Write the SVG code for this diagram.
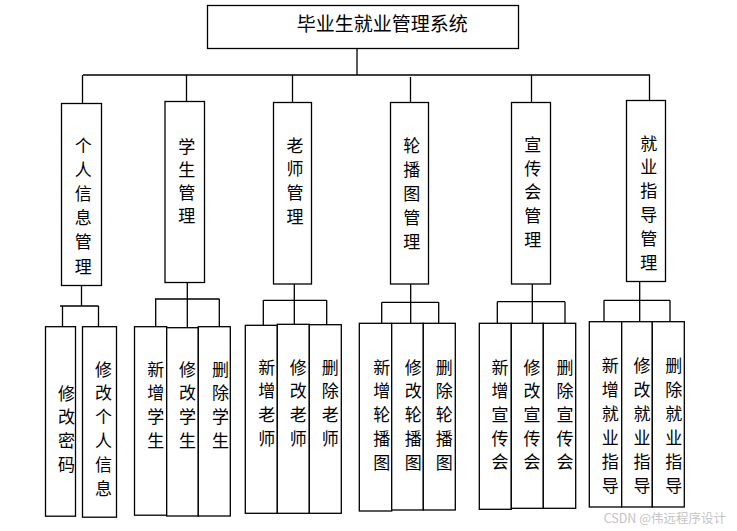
<svg xmlns="http://www.w3.org/2000/svg" width="737" height="531" viewBox="0 0 737 531">
<style>
.b{fill:#fff;stroke:#000;stroke-width:1.3}
.c{fill:none;stroke:#000;stroke-width:1.3}
.t{font-family:"Noto Sans CJK SC","Noto Sans",sans-serif;font-size:17px;fill:#000;text-anchor:middle}
.h{font-family:"Noto Sans CJK SC","Noto Sans",sans-serif;font-size:19px;fill:#000;text-anchor:middle}
.w{font-family:"Noto Sans CJK SC","Noto Sans",sans-serif;font-size:12.5px;fill:#c4c4c4;text-anchor:end}
</style>
<rect width="737" height="531" fill="#fff"/>
<g id="connectors">
<path class="c" d="M357,48.5V75M83,75H650M82.5,75V103.5M186.5,75V101.5M292.5,75V102.5M410.5,77V102.5M531.5,75V102.5M649.5,75V100.5"/>
<path class="c" d="M81.5,285.5V306M60,306H98.5M62.5,306V326.7M98.5,306V326.7"/>
<path class="c" d="M187.3,282.5V327.7M155,299H219.5M155.7,299V326.7M219.3,299V326.7"/>
<path class="c" d="M294.3,284V324.3M263.3,300.3H326.7M263.3,300.3V325.3M326.7,300.3V324.7"/>
<path class="c" d="M410.7,284V323.3M381.7,302.3H438.7M381.7,302.3V323.3M438.7,302.3V323.3"/>
<path class="c" d="M532.3,284V323.3M497.3,301.7H565M497.3,301.7V323.3M565,301.7V323.3"/>
<path class="c" d="M639.7,281.3V321.7M604,300.3H670M604,300.3V321.7M670,300.3V321.7"/>
</g>
<g id="root"><rect class="b" x="207.5" y="5.5" width="311" height="43"/><text class="h" x="382.3" y="31">毕业生就业管理系统</text></g>

<g id="n1"><rect class="b" x="61.5" y="103.5" width="40" height="182"/><text class="t" y="151.5"><tspan x="83.3">个</tspan><tspan x="83.3" dy="24.2">人</tspan><tspan x="83.3" dy="24.2">信</tspan><tspan x="83.3" dy="24.2">息</tspan><tspan x="83.3" dy="24.2">管</tspan><tspan x="83.3" dy="24.2">理</tspan></text></g>
<g id="n2"><rect class="b" x="165" y="101.5" width="39.5" height="181"/><text class="t" y="152.5"><tspan x="186.7">学</tspan><tspan x="186.7" dy="23.3">生</tspan><tspan x="186.7" dy="23.3">管</tspan><tspan x="186.7" dy="23.3">理</tspan></text></g>
<g id="n3"><rect class="b" x="273.5" y="102.5" width="38" height="181.5"/><text class="t" y="151.5"><tspan x="295">老</tspan><tspan x="295" dy="23.9">师</tspan><tspan x="295" dy="23.9">管</tspan><tspan x="295" dy="23.9">理</tspan></text></g>
<g id="n4"><rect class="b" x="390.5" y="102.5" width="38" height="181.5"/><text class="t" y="151.5"><tspan x="411.7">轮</tspan><tspan x="411.7" dy="24.1">播</tspan><tspan x="411.7" dy="24.1">图</tspan><tspan x="411.7" dy="24.1">管</tspan><tspan x="411.7" dy="24.1">理</tspan></text></g>
<g id="n5"><rect class="b" x="511.5" y="102.5" width="39" height="181.5"/><text class="t" y="151.2"><tspan x="532.8">宣</tspan><tspan x="532.8" dy="23.6">传</tspan><tspan x="532.8" dy="23.6">会</tspan><tspan x="532.8" dy="23.6">管</tspan><tspan x="532.8" dy="23.6">理</tspan></text></g>
<g id="n6"><rect class="b" x="626.5" y="100.5" width="39" height="181"/><text class="t" y="149.5"><tspan x="648.7">就</tspan><tspan x="648.7" dy="23.9">业</tspan><tspan x="648.7" dy="23.9">指</tspan><tspan x="648.7" dy="23.9">导</tspan><tspan x="648.7" dy="23.9">管</tspan><tspan x="648.7" dy="23.9">理</tspan></text></g>

<g id="n1a"><rect class="b" x="45.5" y="326.7" width="30" height="189.5"/><text class="t" y="399.5"><tspan x="66.5">修</tspan><tspan x="66.5" dy="23.7">改</tspan><tspan x="66.5" dy="23.7">密</tspan><tspan x="66.5" dy="23.7">码</tspan></text></g>
<g id="n1b"><rect class="b" x="82.5" y="326.7" width="34" height="190.5"/><text class="t" y="375.5"><tspan x="103.5">修</tspan><tspan x="103.5" dy="23.9">改</tspan><tspan x="103.5" dy="23.9">个</tspan><tspan x="103.5" dy="23.9">人</tspan><tspan x="103.5" dy="23.9">信</tspan><tspan x="103.5" dy="23.9">息</tspan></text></g>

<g id="n2a"><rect class="b" x="134.5" y="326.7" width="32.2" height="188.5"/><text class="t" y="375.5"><tspan x="155.8">新</tspan><tspan x="155.8" dy="23.7">增</tspan><tspan x="155.8" dy="23.7">学</tspan><tspan x="155.8" dy="23.7">生</tspan></text></g>
<g id="n2b"><rect class="b" x="166.7" y="327.7" width="31.6" height="188.3"/><text class="t" y="375.5"><tspan x="187.5">修</tspan><tspan x="187.5" dy="23.7">改</tspan><tspan x="187.5" dy="23.7">学</tspan><tspan x="187.5" dy="23.7">生</tspan></text></g>
<g id="n2c"><rect class="b" x="198.3" y="326.7" width="32" height="189.3"/><text class="t" y="375.5"><tspan x="220.5">删</tspan><tspan x="220.5" dy="23.7">除</tspan><tspan x="220.5" dy="23.7">学</tspan><tspan x="220.5" dy="23.7">生</tspan></text></g>

<g id="n3a"><rect class="b" x="245.3" y="325.3" width="32" height="188"/><text class="t" y="373.5"><tspan x="266.7">新</tspan><tspan x="266.7" dy="23.8">增</tspan><tspan x="266.7" dy="23.8">老</tspan><tspan x="266.7" dy="23.8">师</tspan></text></g>
<g id="n3b"><rect class="b" x="277.3" y="324.3" width="32" height="189"/><text class="t" y="373.5"><tspan x="298.3">修</tspan><tspan x="298.3" dy="23.8">改</tspan><tspan x="298.3" dy="23.8">老</tspan><tspan x="298.3" dy="23.8">师</tspan></text></g>
<g id="n3c"><rect class="b" x="309.3" y="324.7" width="32" height="188.6"/><text class="t" y="373.5"><tspan x="330.3">删</tspan><tspan x="330.3" dy="23.8">除</tspan><tspan x="330.3" dy="23.8">老</tspan><tspan x="330.3" dy="23.8">师</tspan></text></g>

<g id="n4a"><rect class="b" x="359.3" y="323.3" width="32.4" height="187.7"/><text class="t" y="373.5"><tspan x="381.7">新</tspan><tspan x="381.7" dy="23.9">增</tspan><tspan x="381.7" dy="23.9">轮</tspan><tspan x="381.7" dy="23.9">播</tspan><tspan x="381.7" dy="23.9">图</tspan></text></g>
<g id="n4b"><rect class="b" x="391.7" y="323.3" width="31.6" height="186.7"/><text class="t" y="373.5"><tspan x="413.3">修</tspan><tspan x="413.3" dy="23.9">改</tspan><tspan x="413.3" dy="23.9">轮</tspan><tspan x="413.3" dy="23.9">播</tspan><tspan x="413.3" dy="23.9">图</tspan></text></g>
<g id="n4c"><rect class="b" x="423.3" y="323.3" width="32" height="186.7"/><text class="t" y="373.5"><tspan x="444.3">删</tspan><tspan x="444.3" dy="23.9">除</tspan><tspan x="444.3" dy="23.9">轮</tspan><tspan x="444.3" dy="23.9">播</tspan><tspan x="444.3" dy="23.9">图</tspan></text></g>

<g id="n5a"><rect class="b" x="479.3" y="323.3" width="32" height="186"/><text class="t" y="373.5"><tspan x="500">新</tspan><tspan x="500" dy="23.7">增</tspan><tspan x="500" dy="23.7">宣</tspan><tspan x="500" dy="23.7">传</tspan><tspan x="500" dy="23.7">会</tspan></text></g>
<g id="n5b"><rect class="b" x="511.3" y="323.3" width="32" height="185"/><text class="t" y="373.5"><tspan x="532">修</tspan><tspan x="532" dy="23.7">改</tspan><tspan x="532" dy="23.7">宣</tspan><tspan x="532" dy="23.7">传</tspan><tspan x="532" dy="23.7">会</tspan></text></g>
<g id="n5c"><rect class="b" x="543.3" y="323.3" width="32.4" height="185"/><text class="t" y="373.5"><tspan x="565">删</tspan><tspan x="565" dy="23.7">除</tspan><tspan x="565" dy="23.7">宣</tspan><tspan x="565" dy="23.7">传</tspan><tspan x="565" dy="23.7">会</tspan></text></g>

<g id="n6a"><rect class="b" x="589.3" y="321.7" width="32.4" height="185.3"/><text class="t" y="371.5"><tspan x="610.3">新</tspan><tspan x="610.3" dy="24">增</tspan><tspan x="610.3" dy="24">就</tspan><tspan x="610.3" dy="24">业</tspan><tspan x="610.3" dy="24">指</tspan><tspan x="610.3" dy="24">导</tspan></text></g>
<g id="n6b"><rect class="b" x="621.7" y="321.7" width="30.6" height="185.3"/><text class="t" y="371.5"><tspan x="642">修</tspan><tspan x="642" dy="24">改</tspan><tspan x="642" dy="24">就</tspan><tspan x="642" dy="24">业</tspan><tspan x="642" dy="24">指</tspan><tspan x="642" dy="24">导</tspan></text></g>
<g id="n6c"><rect class="b" x="652.3" y="321.7" width="32" height="185.3"/><text class="t" y="371.5"><tspan x="673.7">删</tspan><tspan x="673.7" dy="24">除</tspan><tspan x="673.7" dy="24">就</tspan><tspan x="673.7" dy="24">业</tspan><tspan x="673.7" dy="24">指</tspan><tspan x="673.7" dy="24">导</tspan></text></g>

<text class="w" x="726" y="523">CSDN @伟远程序设计</text>
</svg>
